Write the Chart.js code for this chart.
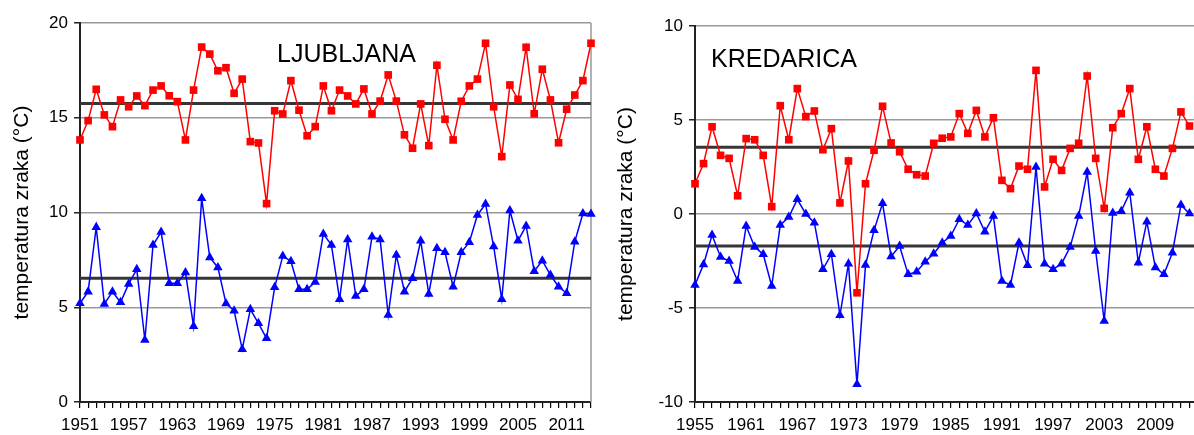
<!DOCTYPE html>
<html>
<head>
<meta charset="utf-8">
<script src="https://cdn.jsdelivr.net/npm/chart.js@4.4.1/dist/chart.umd.min.js"></script>
<style>
  html, body { margin: 0; padding: 0; background: #fff; overflow: hidden; }
  #wrap { position: relative; width: 1194px; height: 435px; overflow: hidden; }
  canvas { position: absolute; top: 0; }
</style>
</head>
<body>
<div id="wrap">
  <canvas id="ljChart" width="600" height="435" style="left:0"></canvas>
  <canvas id="krChart" width="612" height="435" style="left:600px"></canvas>
</div>
<script>
// Ljubljana
const ljYears = ['1951','1952','1953','1954','1955','1956','1957','1958','1959','1960',
  '1961','1962','1963','1964','1965','1966','1967','1968','1969','1970',
  '1971','1972','1973','1974','1975','1976','1977','1978','1979','1980',
  '1981','1982','1983','1984','1985','1986','1987','1988','1989','1990',
  '1991','1992','1993','1994','1995','1996','1997','1998','1999','2000',
  '2001','2002','2003','2004','2005','2006','2007','2008','2009','2010',
  '2011','2012','2013','2014'];
const ljRed = [13.83, 14.85, 16.5, 15.15, 14.53, 15.94, 15.58, 16.15, 15.64, 16.46,
  16.68, 16.16, 15.85, 13.83, 16.46, 18.73, 18.36, 17.48, 17.64, 16.29,
  17.04, 13.74, 13.67, 10.47, 15.37, 15.2, 16.96, 15.4, 14.05, 14.53,
  16.68, 15.37, 16.46, 16.15, 15.73, 16.52, 15.2, 15.88, 17.26, 15.88,
  14.1, 13.39, 15.73, 13.53, 17.77, 14.92, 13.83, 15.87, 16.68, 17.04,
  18.93, 15.58, 12.95, 16.73, 15.97, 18.72, 15.21, 17.56, 15.94, 13.68,
  15.45, 16.2, 16.96, 18.93];
const ljBlue = [5.21, 5.82, 9.22, 5.17, 5.82, 5.26, 6.23, 7.0, 3.27, 8.28,
  8.97, 6.26, 6.26, 6.83, 4.0, 10.75, 7.63, 7.1, 5.2, 4.82,
  2.78, 4.89, 4.15, 3.36, 6.05, 7.7, 7.43, 5.95, 5.95, 6.33,
  8.87, 8.28, 5.42, 8.58, 5.59, 5.95, 8.72, 8.58, 4.59, 7.76,
  5.82, 6.53, 8.51, 5.7, 8.11, 7.9, 6.08, 7.9, 8.43, 9.87,
  10.45, 8.2, 5.42, 10.1, 8.51, 9.29, 6.9, 7.46, 6.7, 6.08,
  5.74, 8.46, 9.95, 9.92];
const ljRedMean = 15.75;
const ljBlueMean = 6.53;
const ljTickLabels = ['1951','1957','1963','1969','1975','1981','1987','1993','1999','2005','2011'];

// Kredarica
const krYears = ['1955','1956','1957','1958','1959','1960',
  '1961','1962','1963','1964','1965','1966','1967','1968','1969','1970',
  '1971','1972','1973','1974','1975','1976','1977','1978','1979','1980',
  '1981','1982','1983','1984','1985','1986','1987','1988','1989','1990',
  '1991','1992','1993','1994','1995','1996','1997','1998','1999','2000',
  '2001','2002','2003','2004','2005','2006','2007','2008','2009','2010',
  '2011','2012','2013','2014'];
const krRed = [1.61, 2.68, 4.64, 3.12, 2.96, 0.97, 4.01, 3.95, 3.12, 0.39,
  5.76, 3.95, 6.67, 5.18, 5.48, 3.42, 4.54, 0.59, 2.82, -4.19,
  1.61, 3.39, 5.73, 3.78, 3.31, 2.38, 2.09, 2.02, 3.76, 4.03,
  4.1, 5.34, 4.29, 5.51, 4.1, 5.12, 1.79, 1.35, 2.55, 2.38,
  7.64, 1.44, 2.91, 2.32, 3.49, 3.76, 7.34, 2.96, 0.3, 4.59,
  5.34, 6.67, 2.91, 4.64, 2.38, 2.02, 3.49, 5.43, 4.68];
const krBlue = [-3.78, -2.68, -1.12, -2.29, -2.5, -3.56, -0.64, -1.76, -2.14, -3.83,
  -0.59, -0.16, 0.78, 0.0, -0.46, -2.94, -2.14, -5.39, -2.64, -9.06,
  -2.71, -0.87, 0.57, -2.26, -1.7, -3.21, -3.07, -2.54, -2.11, -1.53,
  -1.17, -0.28, -0.59, 0.03, -0.94, -0.11, -3.56, -3.78, -1.53, -2.73,
  2.5, -2.64, -2.94, -2.64, -1.76, -0.11, 2.23, -1.97, -5.69, 0.05,
  0.15, 1.13, -2.59, -0.41, -2.85, -3.21, -2.06, 0.48, 0.02];
const krRedMean = 3.55;
const krBlueMean = -1.7;
const krTickLabels = ['1955','1961','1967','1973','1979','1985','1991','1997','2003','2009'];

const FONT = "'Liberation Sans', Arial, sans-serif";

// mean lines, right frame and station name
const extras = {
  id: 'extras',
  beforeDatasetsDraw(chart, args, o) {
    const { ctx, chartArea: a, scales: { y } } = chart;
    ctx.save();
    if (o.frame) {
      ctx.strokeStyle = '#999';
      ctx.lineWidth = 1.5;
      ctx.beginPath();
      ctx.moveTo(a.right, a.top);
      ctx.lineTo(a.right, a.bottom);
      ctx.stroke();
    }
    ctx.strokeStyle = '#363636';
    ctx.lineWidth = 3;
    o.means.forEach(m => {
      const py = y.getPixelForValue(m);
      ctx.beginPath();
      ctx.moveTo(a.left, py);
      ctx.lineTo(a.right, py);
      ctx.stroke();
    });
    ctx.fillStyle = '#000';
    ctx.font = '25px ' + FONT;
    ctx.textBaseline = 'alphabetic';
    ctx.fillText(o.name, a.left + o.nameX, a.top + o.nameY);
    ctx.restore();
  }
};

function makeChart(id, cfg) {
  return new Chart(document.getElementById(id), {
    type: 'line',
    data: {
      labels: cfg.years,
      datasets: [
        { data: cfg.red, borderColor: '#ff0000', backgroundColor: '#ff0000', borderWidth: 1.5,
          pointStyle: 'rect', pointRadius: 5.4, pointBorderWidth: 0, clip: false },
        { data: cfg.blue, borderColor: '#0000ff', backgroundColor: '#0000ff', borderWidth: 1.5,
          pointStyle: 'triangle', pointRadius: 5.5, pointBorderWidth: 0, clip: false }
      ]
    },
    options: {
      responsive: false,
      animation: false,
      layout: { padding: cfg.padding },
      plugins: {
        legend: { display: false },
        tooltip: { enabled: false },
        extras: { means: cfg.means, frame: cfg.frame, name: cfg.name, nameX: cfg.nameX, nameY: cfg.nameY }
      },
      scales: {
        x: {
          type: 'category',
          offset: false,
          grid: { drawOnChartArea: false, tickLength: 6, tickColor: '#000', lineWidth: 1.2 },
          border: { color: '#222', width: 2 },
          ticks: {
            autoSkip: false, maxRotation: 0, minRotation: 0, padding: 7,
            color: '#000', font: { family: FONT, size: 17 },
            callback(v, i) { const l = this.getLabelForValue(v); return cfg.ticks.includes(l) ? l : ''; }
          },
          afterFit(s) { s.height = 33; }
        },
        y: {
          min: cfg.ymin, max: cfg.ymax,
          grid: { color: '#999', lineWidth: 1.5, tickLength: 6, tickColor: '#222' },
          border: { color: '#222', width: 2 },
          ticks: { stepSize: 5, padding: 6, color: '#000', font: { family: FONT, size: 17 } },
          title: { display: true, text: 'temperatura zraka (°C)', color: '#000',
                   font: { family: FONT, size: 21 }, padding: { top: cfg.titlePad, bottom: 0 } },
          afterFit(s) { s.width = cfg.yWidth; }
        }
      }
    },
    plugins: [extras]
  });
}

makeChart('ljChart', {
  years: ljYears, red: ljRed, blue: ljBlue, ticks: ljTickLabels,
  means: [ljRedMean, ljBlueMean], frame: true, name: 'LJUBLJANA', nameX: 197, nameY: 39,
  ymin: 0, ymax: 20, yWidth: 80, titlePad: 10,
  padding: { top: 23, right: 9, left: 0, bottom: 0 }
});

makeChart('krChart', {
  years: krYears, red: krRed, blue: krBlue, ticks: krTickLabels,
  means: [krRedMean, krBlueMean], frame: false, name: 'KREDARICA', nameX: 16, nameY: 41,
  ymin: -10, ymax: 10, yWidth: 95, titlePad: 14,
  padding: { top: 26, right: 14, left: 0, bottom: 0 }
});
</script>
</body>
</html>
